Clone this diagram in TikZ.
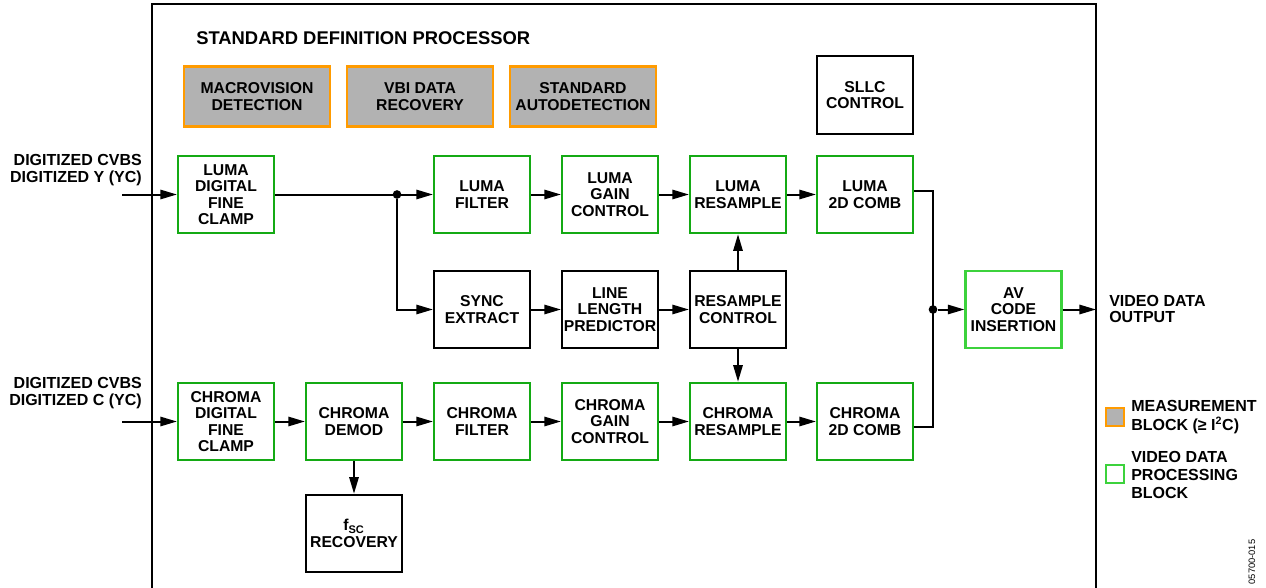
\documentclass[tikz,border=0pt]{standalone}
\usepackage{fontspec}
\setmainfont{Liberation Sans}
\usetikzlibrary{arrows.meta}
\definecolor{grn}{RGB}{20,170,20}
\definecolor{lgrn}{RGB}{60,210,60}
\definecolor{org}{RGB}{255,155,0}
\definecolor{gry}{RGB}{178,178,178}
\tikzset{
  blk/.style={draw, line width=1.6pt, minimum width=72pt, minimum height=58pt, align=center,
    inner sep=0pt, font=\bfseries\fontsize{11.8}{12.3}\selectfont},
  gbox/.style={blk, draw=grn},
  kbox/.style={blk, draw=black},
  mbox/.style={blk, draw=org, fill=gry, minimum width=110pt, minimum height=45pt},
  lbl/.style={font=\bfseries\fontsize{12}{12.5}\selectfont, align=left, inner sep=0pt},
  arr/.style={line width=1.5pt, -{Triangle[length=12.5pt,width=7pt]}},
  ln/.style={line width=1.5pt},
  dot/.style={circle, fill=black, inner sep=0pt, minimum size=6.5pt}
}
\begin{document}
\begin{tikzpicture}[x=0.75pt,y=-0.75pt]
\useasboundingbox (0,0) rectangle (1266,588);
\draw[line width=2pt] (152,600) -- (152,4) -- (1096,4) -- (1096,600);
\node[lbl, font=\bfseries\fontsize{13.8}{14}\selectfont, anchor=west] (title) at (196,38) {STANDARD DEFINITION PROCESSOR};
% measurement blocks
\node[mbox] (macro) at (257,96.5) {MACROVISION\\DETECTION};
\node[mbox] (vbi) at (420,96.5) {VBI DATA\\RECOVERY};
\node[mbox] (std) at (583,96.5) {STANDARD\\AUTODETECTION};
\node[kbox] (sllc) at (865,95) {SLLC\\CONTROL};
% row 1
\node[gbox] (lclamp) at (226,194.5) {LUMA\\DIGITAL\\FINE\\CLAMP};
\node[gbox] (lfilt) at (482,194.5) {LUMA\\FILTER};
\node[gbox] (lgain) at (610,194.5) {LUMA\\GAIN\\CONTROL};
\node[gbox] (lres) at (738,194.5) {LUMA\\RESAMPLE};
\node[gbox] (lcomb) at (865,194.5) {LUMA\\2D COMB};
% row 2
\node[kbox] (sync) at (482,309.5) {SYNC\\EXTRACT};
\node[kbox] (llp) at (610,309.5) {LINE\\LENGTH\\PREDICTOR};
\node[kbox] (rctl) at (738,309.5) {RESAMPLE\\CONTROL};
\node[blk, draw=lgrn] (av) at (1013.5,309.5) {AV\\CODE\\INSERTION};
% row 3
\node[gbox] (cclamp) at (226,421.5) {CHROMA\\DIGITAL\\FINE\\CLAMP};
\node[gbox] (cdemod) at (354,421.5) {CHROMA\\DEMOD};
\node[gbox] (cfilt) at (482,421.5) {CHROMA\\FILTER};
\node[gbox] (cgain) at (610,421.5) {CHROMA\\GAIN\\CONTROL};
\node[gbox] (cres) at (738,421.5) {CHROMA\\RESAMPLE};
\node[gbox] (ccomb) at (865,421.5) {CHROMA\\2D COMB};
\node[kbox] (fsc) at (354,533.5) {f\textsubscript{SC}\\RECOVERY};
% inputs / outputs
\coordinate (in1) at (122,194.5);
\coordinate (in2) at (122,421.5);
\coordinate (out) at (1096,309.5);
\node[lbl, align=right, anchor=east] (t1) at (142,170) {DIGITIZED CVBS\\DIGITIZED Y (YC)};
\node[lbl, align=right, anchor=east] (t2) at (142,393) {DIGITIZED CVBS\\DIGITIZED C (YC)};
\node[lbl, anchor=west] (t3) at (1109,309) {VIDEO DATA\\OUTPUT};
% junctions
\node[dot] (j1) at (397,194.5) {};
\node[dot] (j2) at (933,309.5) {};
% connectors
\draw[arr] (in1) -- (lclamp);
\draw[arr] (lclamp) -- (lfilt);
\draw[arr] (j1) |- (sync);
\draw[arr] (lfilt) -- (lgain);
\draw[arr] (lgain) -- (lres);
\draw[arr] (lres) -- (lcomb);
\draw[arr] (sync) -- (llp);
\draw[arr] (llp) -- (rctl);
\draw[arr] (rctl) -- (lres);
\draw[arr] (rctl) -- (cres);
\draw[arr] (in2) -- (cclamp);
\draw[arr] (cclamp) -- (cdemod);
\draw[arr] (cdemod) -- (cfilt);
\draw[arr] (cfilt) -- (cgain);
\draw[arr] (cgain) -- (cres);
\draw[arr] (cres) -- (ccomb);
\draw[arr] (cdemod) -- (fsc);
\draw[ln] ([yshift=3pt]lcomb.east) -| (j2.center) |- ([yshift=-4pt]ccomb.east);
\draw[arr] (j2) -- (av);
\draw[arr] (av) -- (out);
% legend
\node[draw=org, fill=gry, line width=1.6pt, minimum size=13pt, inner sep=0pt] (lg1) at (1115,417) {};
\node[draw=lgrn, line width=1.6pt, minimum size=13pt, inner sep=0pt] (lg2) at (1115,474) {};
\node[lbl, font=\bfseries\fontsize{12}{14}\selectfont, anchor=west] (lt1) at (1131,417) {MEASUREMENT\\BLOCK (≥ I\textsuperscript{2}C)};
\node[lbl, font=\bfseries\fontsize{12}{13.5}\selectfont, anchor=west] (lt2) at (1131,475) {VIDEO DATA\\PROCESSING\\BLOCK};
\node[font=\fontsize{7}{8}\selectfont, rotate=90, inner sep=0pt] (code) at (1252,562) {05700-015};
\end{tikzpicture}
\end{document}
